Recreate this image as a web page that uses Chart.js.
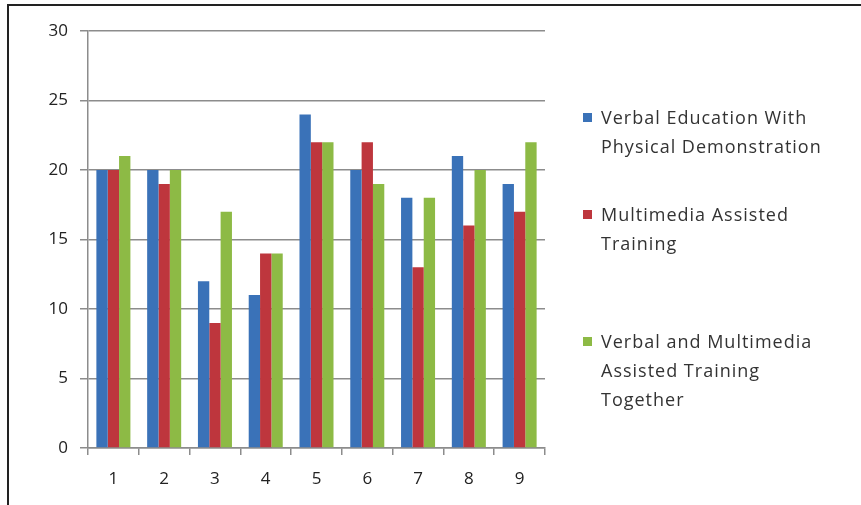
<!DOCTYPE html>
<html>
<head>
<meta charset="utf-8">
<script src="https://cdn.jsdelivr.net/npm/chart.js@4"></script>
<style>
  body { margin: 0; background: #fff; }
  #wrap { position: relative; width: 861px; height: 505px; }
  #frame { position: absolute; left: 7px; top: 4px; right: -10px; bottom: -10px;
           border-top: 2px solid #222; border-left: 2px solid #222; }
  #leyenda { position: absolute; left: 583px; top: 0; font-family: "Open Sans", sans-serif;
             font-size: 18px; letter-spacing: 1px; color: #333; }
  .item { position: absolute; left: 0; width: 250px; line-height: 29px; padding-left: 18px; white-space: nowrap; }
  .item .sq { position: absolute; left: 0; top: 10px; width: 9px; height: 9px; }
</style>
</head>
<body>
<div id="wrap">
  <div id="frame"></div>
  <canvas id="grafica" width="861" height="505"></canvas>
  <div id="leyenda"></div>
</div>
<script>
// ── Datos ─────────────────────────────────────────────
const categorias = ['1', '2', '3', '4', '5', '6', '7', '8', '9'];
const serieVerbal     = [20, 20, 12, 11, 24, 20, 18, 21, 19];
const serieMultimedia = [20, 19,  9, 14, 22, 22, 13, 16, 17];
const serieAmbas      = [21, 20, 17, 14, 22, 19, 18, 20, 22];
const etiquetas = [
    ['Verbal Education With', 'Physical Demonstration'],
    ['Multimedia Assisted', 'Training'],
    ['Verbal and Multimedia', 'Assisted Training', 'Together']
];
const ticksY = [0, 5, 10, 15, 20, 25, 30];

// ── Colores ───────────────────────────────────────────
const COLORES = ['#3A72B8', '#BE363D', '#8DBA45'];
const GRIS = '#8c8c8c';

const series = [serieVerbal, serieMultimedia, serieAmbas];

new Chart(document.getElementById('grafica'), {
    type: 'bar',
    data: {
        labels: categorias,
        datasets: series.map((d, i) => ({
            label: etiquetas[i].join(' '),
            data: d,
            backgroundColor: COLORES[i],
            categoryPercentage: 0.67,
            barPercentage: 1.0
        }))
    },
    options: {
        responsive: false,
        animation: false,
        layout: { padding: { left: 10, top: 31, right: 316, bottom: 0 } },
        plugins: { legend: { display: false }, tooltip: { enabled: false } },
        scales: {
            x: {
                grid: { drawOnChartArea: false, offset: true, color: GRIS, lineWidth: 1.5, tickLength: 7 },
                border: { color: GRIS, width: 1.5 },
                ticks: { color: '#222', font: { family: 'Open Sans', size: 17 }, padding: 14 },
                afterFit: s => { s.height = 57; }
            },
            y: {
                min: 0, max: 30,
                afterBuildTicks: s => { s.ticks = ticksY.map(v => ({ value: v })); },
                grid: { color: GRIS, lineWidth: 1.5, tickLength: 8 },
                border: { color: GRIS, width: 1.5 },
                ticks: { color: '#222', font: { family: 'Open Sans', size: 17 }, padding: 12 },
                afterFit: s => { s.width = 78; }
            }
        }
    }
});

// ── Leyenda en HTML (texto en varias líneas) ──────────
const posLeyenda = [103, 200, 327];
const leyenda = document.getElementById('leyenda');
etiquetas.forEach((lineas, i) => {
    const div = document.createElement('div');
    div.className = 'item';
    div.style.top = posLeyenda[i] + 'px';
    div.innerHTML = '<span class="sq" style="background:' + COLORES[i] + '"></span>' + lineas.join('<br>');
    leyenda.appendChild(div);
});
</script>
</body>
</html>
